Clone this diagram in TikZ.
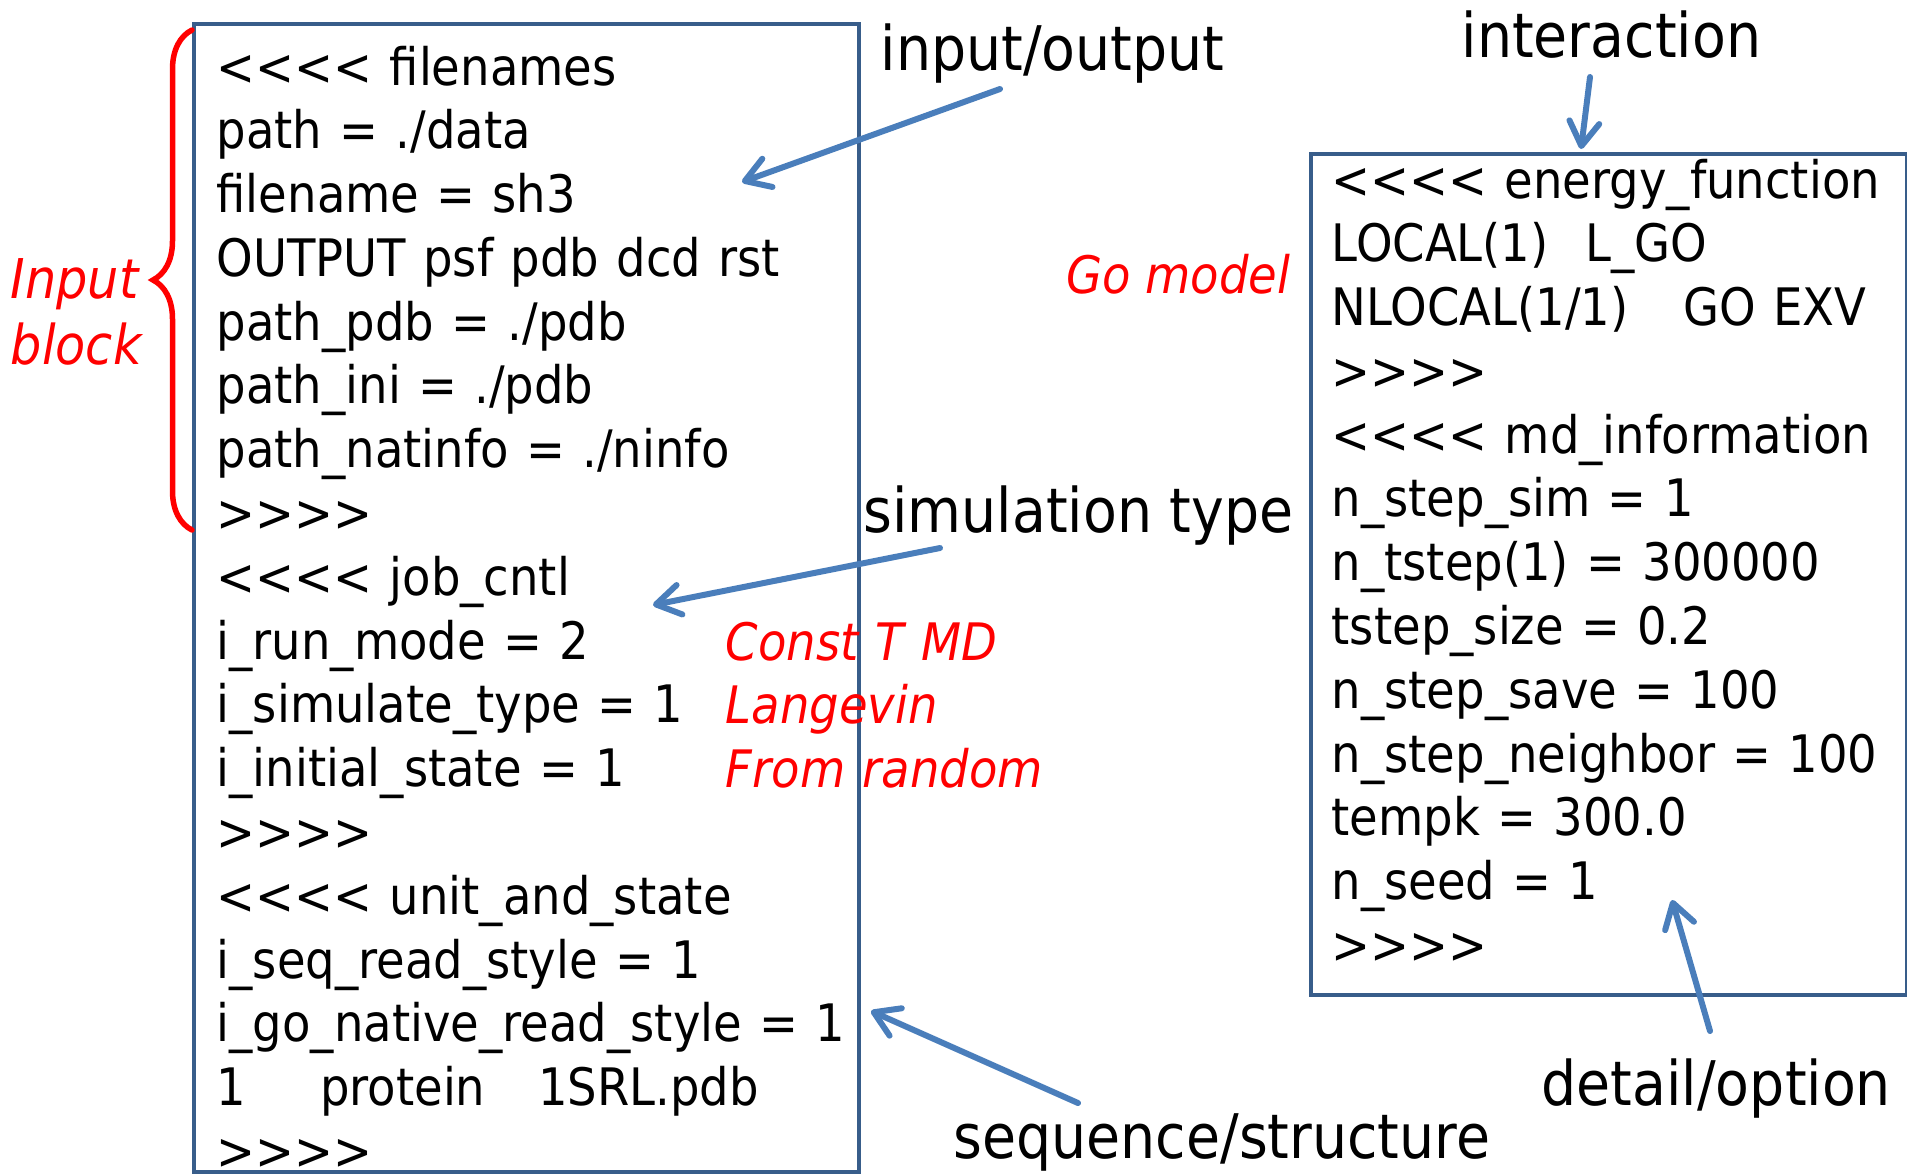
\documentclass[tikz,border=0pt]{standalone}
\usepackage{fontspec}
\setmainfont[FakeStretch=0.9]{DejaVu Sans}
\usepackage{tikz}
\usetikzlibrary{arrows.meta,decorations.pathreplacing}

\definecolor{boxblue}{HTML}{385D8A}
\definecolor{arrowblue}{HTML}{4A7EBB}

\newcommand{\blkopen}{<{}<{}<{}<}
\newcommand{\blkclose}{>{}>{}>{}>}

\begin{document}
\begin{tikzpicture}[x=0.1mm, y=-0.1mm]
        \tikzstyle{panel} = [draw=boxblue, line width=0.4mm, anchor=north west, inner sep=0pt]
        \tikzstyle{code} = [inner sep=0pt, anchor=base west, text width=75mm, align=left, font=\fontsize{14.7pt}{18.15pt}\selectfont]
        \tikzstyle{note} = [inner sep=0pt, anchor=base west, text=red, font=\fontsize{14.7pt}{18.15pt}\selectfont\itshape]
        \tikzstyle{tag} = [inner sep=0pt, anchor=base west, font=\fontsize{17.5pt}{21pt}\selectfont]
        \tikzstyle{line} = [draw=arrowblue, line width=0.6mm, line cap=round, -{Straight Barb[round, length=2.4mm, width=3mm]}]

        \useasboundingbox (0,0) rectangle (1907,1173);

        \node [panel, minimum width=66.5mm, minimum height=114.8mm] (inputbox) at (192,22) {};
        \node [panel, minimum width=59.6mm, minimum height=84.1mm] (mdbox) at (1309,152) {};

        \node [code] (inputtext) at (216,85) {\blkopen{} filenames\\
                path = ./data\\
                filename = sh3\\
                OUTPUT psf pdb dcd rst\\
                path\_pdb = ./pdb\\
                path\_ini = ./pdb\\
                path\_natinfo = ./ninfo\\
                \blkclose\\
                \blkopen{} job\_cntl\\
                i\_run\_mode = 2\\
                i\_simulate\_type = 1\\
                i\_initial\_state = 1\\
                \blkclose\\
                \blkopen{} unit\_and\_state\\
                i\_seq\_read\_style = 1\\
                i\_go\_native\_read\_style = 1\\
                1\hspace{21pt}protein\hspace{15pt}1SRL.pdb\\
                \blkclose};

        \node [code] (mdtext) at (1331,198) {\blkopen{} energy\_function\\
                LOCAL(1)\hspace{10.5pt}L\_GO\\
                NLOCAL(1/1)\hspace{15.6pt}GO EXV\\
                \blkclose\\
                \blkopen{} md\_information\\
                n\_step\_sim = 1\\
                n\_tstep(1) = 300000\\
                tstep\_size = 0.2\\
                n\_step\_save = 100\\
                n\_step\_neighbor = 100\\
                tempk = 300.0\\
                n\_seed = 1\\
                \blkclose};

        \node [note, text width=30mm, font=\fontsize{15.6pt}{18.8pt}\selectfont\itshape] (inblock) at (10,298) {Input\\ block};
        \node [note, anchor=base east] (gomodel) at (1291,293) {Go model};
        \node [note, text width=40mm] (runnote) at (725,660) {Const T MD\\ Langevin\\ From random};

        \node [tag] (io) at (880,70) {input/output};
        \node [tag] (inter) at (1461,57) {interaction};
        \node [tag] (simtype) at (863,532) {simulation type};
        \node [tag] (seqstr) at (953,1158) {sequence/structure};
        \node [tag] (detail) at (1541,1105) {detail/option};

        \draw [red, line width=0.55mm, line cap=round, decorate, decoration={brace, amplitude=3.9mm}] (192,530) -- (192,30);

        \coordinate (iotail) at (1000,89);
        \coordinate (iotip) at (742,182);
        \coordinate (simtail) at (940,548);
        \coordinate (simtip) at (653,605);
        \coordinate (inttail) at (1590,77);
        \coordinate (inttip) at (1581,149);
        \coordinate (seqtail) at (1078,1103);
        \coordinate (seqtip) at (871,1011);
        \coordinate (dettail) at (1710,1031);
        \coordinate (dettip) at (1672,900);

        \path [line] (iotail) -- (iotip);
        \path [line] (simtail) -- (simtip);
        \path [line] (inttail) -- (inttip);
        \path [line] (seqtail) -- (seqtip);
        \path [line] (dettail) -- (dettip);
    \end{tikzpicture}
\end{document}
